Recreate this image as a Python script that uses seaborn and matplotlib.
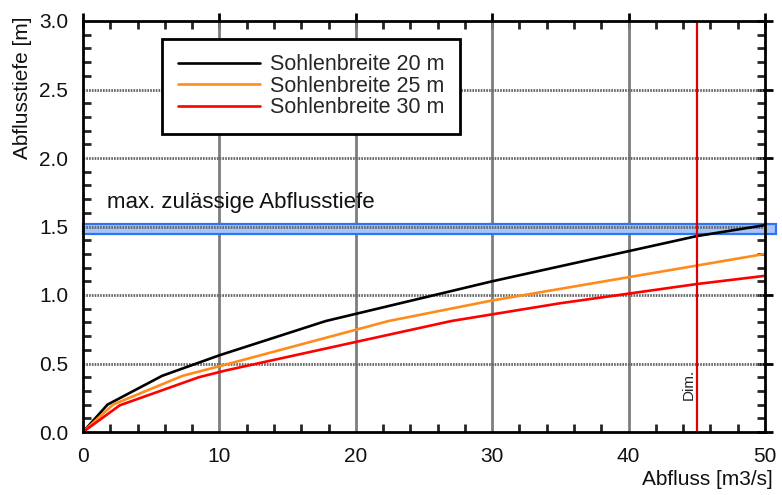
import matplotlib
matplotlib.use("Agg")
import matplotlib.pyplot as plt
from matplotlib.patches import Rectangle
from matplotlib.ticker import MultipleLocator
import seaborn as sns
import pandas as pd

# Abfluss-Tiefen-Beziehung für drei Sohlenbreiten
q_20 = [0, 1.8, 5.8, 10.0, 17.8, 30.0, 40.0, 45.0, 50.0]
h_20 = [0, 0.20, 0.41, 0.56, 0.81, 1.10, 1.32, 1.43, 1.51]

q_25 = [0, 2.2, 7.3, 10.0, 22.4, 30.0, 40.0, 50.0]
h_25 = [0, 0.20, 0.41, 0.48, 0.81, 0.96, 1.13, 1.30]

q_30 = [0, 2.7, 8.5, 10.5, 27.0, 35.0, 40.0, 45.0, 50.0]
h_30 = [0, 0.195, 0.40, 0.45, 0.81, 0.94, 1.01, 1.08, 1.14]

labels = ["Sohlenbreite 20 m", "Sohlenbreite 25 m", "Sohlenbreite 30 m"]
colors = ["#000000", "#ff8c1a", "#ff0000"]

h_max_low, h_max_high = 1.445, 1.515   # max. zulässige Abflusstiefe (Band)
q_dim = 45.0                           # Dimensionierungsabfluss

frames = []
for q, h, lab in zip([q_20, q_25, q_30], [h_20, h_25, h_30], labels):
    frames.append(pd.DataFrame({"Abfluss": q, "Abflusstiefe": h, "Sohlenbreite": lab}))
df = pd.concat(frames, ignore_index=True)

sns.set_theme(style="white")
plt.rcParams["font.family"] = ["Liberation Sans", "DejaVu Sans"]

fig = plt.figure(figsize=(7.82, 4.95), dpi=100)
ax = fig.add_axes([83 / 782, 1 - 432 / 495, (765 - 83) / 782, (432 - 21) / 495])

ax.set_xlim(0, 50)
ax.set_ylim(0, 3.0)

# Gitter
for xv in [10, 20, 30, 40]:
    ax.axvline(xv, color="#7d7d7d", lw=2.0, zorder=1)
for yv in [0.5, 1.0, 1.5, 2.0, 2.5]:
    ax.axhline(yv, color="#666666", lw=2.0, ls=(0, (0.6, 0.4)), zorder=3)

# Band der maximal zulässigen Abflusstiefe
ax.add_patch(Rectangle((0, h_max_low), 50.8, h_max_high - h_max_low,
                       facecolor="#a4c6fb", edgecolor="#2f74f0", lw=1.6,
                       clip_on=False, zorder=2))
ax.text(1.75, 1.635, "max. zulässige Abflusstiefe", fontsize=16,
        color="#111111", ha="left", va="baseline")

sns.lineplot(data=df, x="Abfluss", y="Abflusstiefe", hue="Sohlenbreite",
             palette=dict(zip(labels, colors)), lw=1.9, ax=ax, zorder=5,
             sort=False, estimator=None)

ax.axvline(q_dim, color="#e00000", lw=1.6, zorder=6)
ax.text(44.4, 0.345, "Dim.", rotation=90, fontsize=11, ha="center", va="center")

# Achsen und Ticks
for sp in ax.spines.values():
    sp.set_visible(True)
    sp.set_color("black")
    sp.set_linewidth(2.0)
    sp.set_zorder(7)
ax.xaxis.set_major_locator(MultipleLocator(10))
ax.xaxis.set_minor_locator(MultipleLocator(2))
ax.yaxis.set_major_locator(MultipleLocator(0.5))
ax.yaxis.set_minor_locator(MultipleLocator(0.1))
ax.yaxis.set_major_formatter(matplotlib.ticker.FormatStrFormatter("%.1f"))
ax.tick_params(which="major", direction="inout", length=11.5, width=2.0,
               top=True, right=True, labelsize=15, pad=5, colors="black",
               labelcolor="#111111")
ax.tick_params(which="minor", direction="in", length=5.8, width=2.0,
               top=True, right=True, bottom=True, left=True)
ax.set_xlabel("")
ax.set_ylabel("")

fig.text(773 / 782, 1 - 485 / 495, "Abfluss [m3/s]", fontsize=15,
         ha="right", va="baseline", color="#111111")
fig.text(23 / 782, 1 - 88 / 495, "Abflusstiefe [m]", fontsize=15,
         rotation=90, ha="center", va="center", color="#111111")

leg = ax.legend(loc="upper left", bbox_to_anchor=(162 / 782, 1 - 39 / 495),
                bbox_transform=fig.transFigure, fontsize=15.5, frameon=True,
                fancybox=False, shadow=False, handlelength=3.85,
                handletextpad=0.45, labelspacing=0.02, borderpad=0.72,
                borderaxespad=0)
leg.get_frame().set_edgecolor("black")
leg.get_frame().set_linewidth(2.0)
leg.get_frame().set_facecolor("white")
leg.get_frame().set_alpha(1)
leg.set_zorder(8)
for line in leg.get_lines():
    line.set_linewidth(1.9)

fig.savefig("out.png", dpi=100, facecolor="white")
